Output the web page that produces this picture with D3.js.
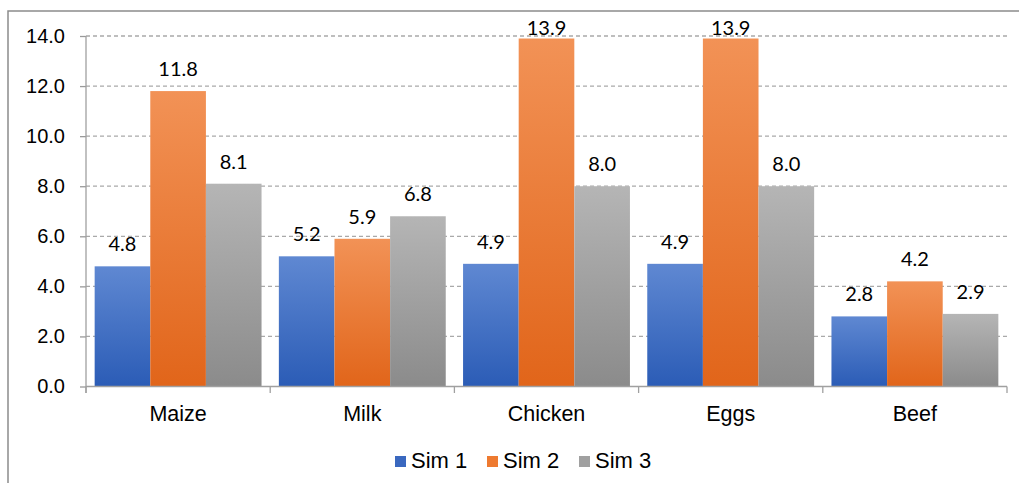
<!DOCTYPE html>
<html>
<head>
<meta charset="utf-8">
<script src="https://cdn.jsdelivr.net/npm/d3@7"></script>
<style>
  html, body { margin: 0; padding: 0; background: #fff; }
  svg { display: block; }
  text { font-family: "Liberation Sans", Arial, sans-serif; fill: #000; }
  .val { font-family: Lato, "Open Sans", sans-serif; }
</style>
</head>
<body>
<svg id="chart" width="1019" height="483"></svg>
<script>
// Food categories and the three simulation results
const categories = ["Maize", "Milk", "Chicken", "Eggs", "Beef"];
const seriesNames = ["Sim 1", "Sim 2", "Sim 3"];
const sim1 = [4.8, 5.2, 4.9, 4.9, 2.8];
const sim2 = [11.8, 5.9, 13.9, 13.9, 4.2];
const sim3 = [8.1, 6.8, 8.0, 8.0, 2.9];
const yTicks = [0, 2, 4, 6, 8, 10, 12, 14];

const seriesValues = [sim1, sim2, sim3];
const colors = [
  { top: "#5f88d2", bottom: "#2b5cb6", key: "#3a68bf" },
  { top: "#f29256", bottom: "#e1651a", key: "#ee7a30" },
  { top: "#b5b5b5", bottom: "#8b8b8b", key: "#a0a0a0" }
];

const svg = d3.select("#chart");
const W = 1019, H = 483;

// Outer frame (top and left edges visible)
svg.append("path")
  .attr("d", `M8,${H} L8,11 L${W},11`)
  .attr("fill", "none").attr("stroke", "#8c8c8c").attr("stroke-width", 1.5);

const x = d3.scaleBand().domain(categories).range([86, 1007]).paddingInner(0).paddingOuter(0);
const xs = d3.scaleBand().domain(seriesNames)
  .range([x.bandwidth() * 0.047, x.bandwidth() * 0.953]).padding(0);
const y = d3.scaleLinear().domain([0, 14]).range([386.5, 36]);

// Gradients for each series
const defs = svg.append("defs");
colors.forEach((c, i) => {
  const g = defs.append("linearGradient").attr("id", "grad" + i)
    .attr("x1", 0).attr("y1", 0).attr("x2", 0).attr("y2", 1);
  g.append("stop").attr("offset", "0%").attr("stop-color", c.top);
  g.append("stop").attr("offset", "100%").attr("stop-color", c.bottom);
});

// Dashed gridlines
svg.append("g").selectAll("line")
  .data(yTicks.filter(d => d > 0))
  .join("line")
  .attr("x1", 86).attr("x2", 1007)
  .attr("y1", d => y(d)).attr("y2", d => y(d))
  .attr("stroke", "#a9a9a9").attr("stroke-width", 1.3)
  .attr("stroke-dasharray", "4,3");

// Y axis
const yAxis = svg.append("g").attr("transform", "translate(86,0)")
  .call(d3.axisLeft(y).tickValues(yTicks).tickSize(6).tickPadding(15)
    .tickFormat(d3.format(".1f")));
yAxis.select(".domain").remove();
yAxis.selectAll(".tick line").attr("stroke", "#999").attr("stroke-width", 1.3);
yAxis.selectAll(".tick text")
  .attr("font-family", "Liberation Sans, Arial, sans-serif")
  .attr("font-size", 20).attr("fill", "#000");
svg.append("line").attr("x1", 86).attr("x2", 86).attr("y1", y(14)).attr("y2", 393)
  .attr("stroke", "#a0a0a0").attr("stroke-width", 1.3);

// Bars
const groups = svg.append("g").selectAll("g")
  .data(categories)
  .join("g")
  .attr("transform", d => `translate(${x(d)},0)`);

groups.selectAll("rect")
  .data((d, ci) => seriesValues.map((vals, si) => ({ s: seriesNames[si], si, v: vals[ci] })))
  .join("rect")
  .attr("x", d => xs(d.s))
  .attr("width", xs.bandwidth())
  .attr("y", d => y(d.v))
  .attr("height", d => y(0) - y(d.v))
  .attr("fill", d => `url(#grad${d.si})`);

// Value labels (kept inside the plot area at the top)
groups.selectAll("text.val")
  .data((d, ci) => seriesValues.map((vals, si) => ({ s: seriesNames[si], v: vals[ci] })))
  .join("text")
  .attr("class", "val")
  .attr("x", d => xs(d.s) + xs.bandwidth() / 2)
  .attr("y", d => Math.max(y(d.v) - 15, 35))
  .attr("text-anchor", "middle")
  .attr("font-size", 20)
  .text(d => d3.format(".1f")(d.v));

// X axis
svg.append("line").attr("x1", 86).attr("x2", 1007).attr("y1", y(0)).attr("y2", y(0))
  .attr("stroke", "#a0a0a0").attr("stroke-width", 1.3);
const bounds = categories.map(c => x(c)).concat([x.range()[1]]);
svg.append("g").selectAll("line").data(bounds).join("line")
  .attr("x1", d => d).attr("x2", d => d)
  .attr("y1", y(0)).attr("y2", 393)
  .attr("stroke", "#a0a0a0").attr("stroke-width", 1.3);
svg.append("g").selectAll("text").data(categories).join("text")
  .attr("x", c => x(c) + x.bandwidth() / 2)
  .attr("y", 420.5)
  .attr("text-anchor", "middle")
  .attr("font-size", 21.5)
  .text(c => c);

// Legend
const legendX = [395, 487, 579];
const legend = svg.append("g").selectAll("g").data(seriesNames).join("g")
  .attr("transform", (s, i) => `translate(${legendX[i]},0)`);
legend.append("rect").attr("x", 0).attr("y", 456).attr("width", 11).attr("height", 11)
  .attr("fill", (s, i) => colors[i].key);
legend.append("text").attr("x", 16).attr("y", 467.7)
  .attr("font-size", 22).text(s => s);
</script>
</body>
</html>
